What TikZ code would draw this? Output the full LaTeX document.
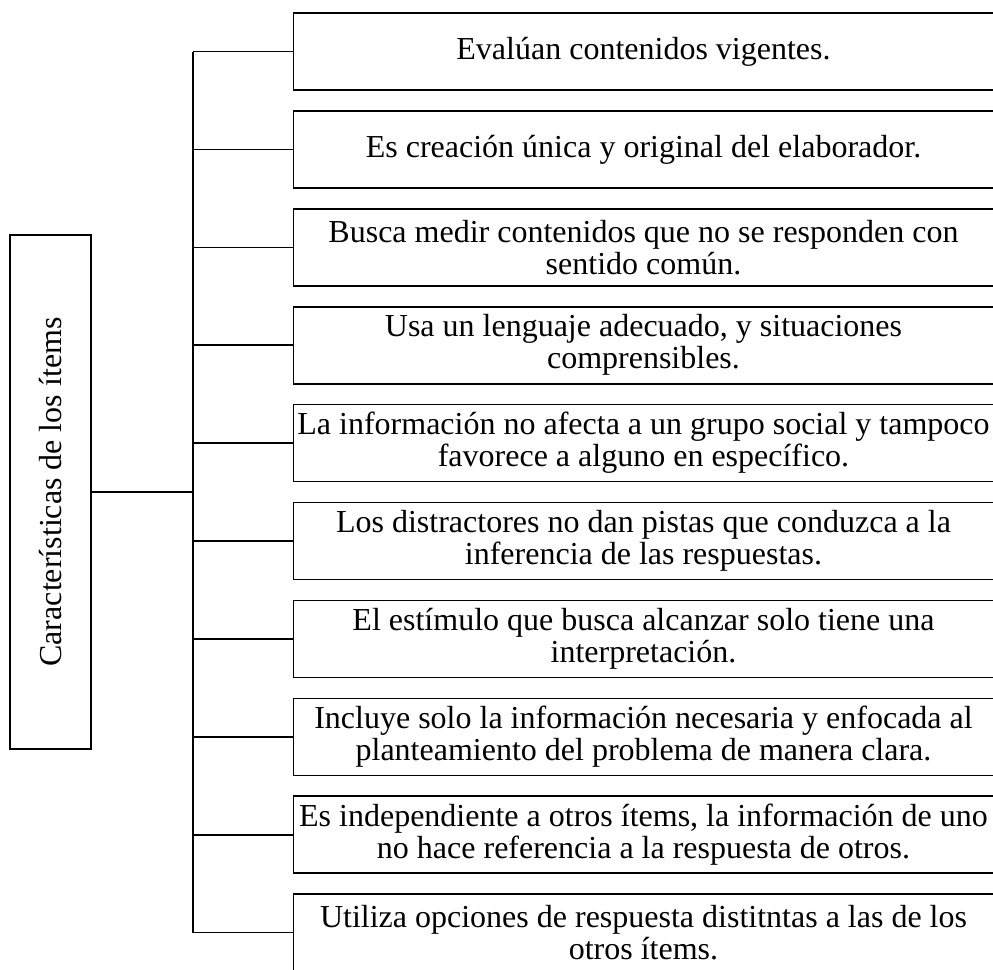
\documentclass[tikz,border=0pt]{standalone}
\usepackage{fontspec}
\setmainfont{Liberation Serif}
\begin{document}
\begin{tikzpicture}[x=1pt,y=-1pt,
  line width=1.6pt,
  itembox/.style={draw, minimum width=700pt, minimum height=77pt, inner sep=0pt,
    align=center, font=\fontsize{32}{32}\selectfont},
  mainbox/.style={draw, minimum width=81pt, minimum height=514pt, inner sep=0pt,
    font=\fontsize{32}{32}\selectfont},
  conn/.style={line width=1.6pt}]
\useasboundingbox (0,0) rectangle (993,969);
\clip (0,0) rectangle (993,969);
\node[mainbox] (main) at (50.5,492) {\rotatebox{90}{Características de los ítems}};
\coordinate (hub) at (193,492);
\node[itembox] (b1) at (643.5,51.5) {Evalúan contenidos vigentes.};
\node[itembox] (b2) at (643.5,149.4) {Es creación única y original del elaborador.};
\node[itembox] (b3) at (643.5,247.3) {Busca medir contenidos que no se responden con\\sentido común.};
\node[itembox] (b4) at (643.5,345.2) {Usa un lenguaje adecuado, y situaciones\\comprensibles.};
\node[itembox] (b5) at (643.5,443.1) {La información no afecta a un grupo social y tampoco\\favorece a alguno en específico.};
\node[itembox] (b6) at (643.5,541.0) {Los distractores no dan pistas que conduzca a la\\inferencia de las respuestas.};
\node[itembox] (b7) at (643.5,638.9) {El estímulo que busca alcanzar solo tiene una\\interpretación.};
\node[itembox] (b8) at (643.5,736.8) {Incluye solo la información necesaria y enfocada al\\planteamiento del problema de manera clara.};
\node[itembox] (b9) at (643.5,834.7) {Es independiente a otros ítems, la información de uno\\no hace referencia a la respuesta de otros.};
\node[itembox] (b10) at (643.5,932.6) {Utiliza opciones de respuesta distitntas a las de los\\otros ítems.};
\draw[conn] (main.east) -- (hub);
\coordinate (vtop) at (193,51.5);
\coordinate (vbot) at (193,932.6);
\draw[conn] (vtop) -- (vbot);
\foreach \i in {1,...,10}{
  \draw[conn] (b\i.west -| hub) -- (b\i.west);
}
\end{tikzpicture}
\end{document}
